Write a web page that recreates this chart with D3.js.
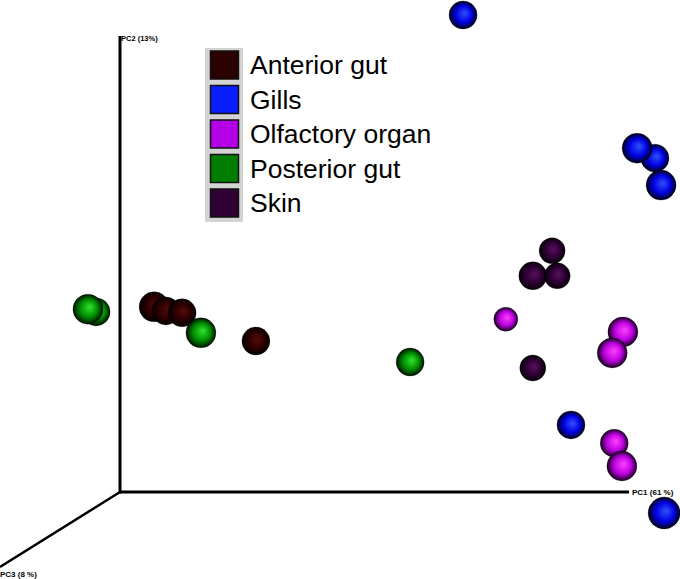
<!DOCTYPE html>
<html>
<head>
<meta charset="utf-8">
<script src="https://cdn.jsdelivr.net/npm/d3@7/dist/d3.min.js"></script>
<style>
  html, body { margin: 0; padding: 0; background: #ffffff; }
  svg { display: block; }
</style>
</head>
<body>
<script>
// ---- data (projected PCoA view: pc1 horizontal, pc2 vertical, pc3 depth) ----
const categories = ["Anterior gut", "Gills", "Olfactory organ", "Posterior gut", "Skin"];
const axisLabels = ["PC1 (61 %)", "PC2 (13%)", "PC3 (8 %)"];

const sampleGroup = [
  "Gills", "Gills", "Gills", "Gills", "Gills", "Gills",
  "Anterior gut", "Anterior gut", "Anterior gut", "Anterior gut",
  "Posterior gut", "Posterior gut", "Posterior gut", "Posterior gut",
  "Skin", "Skin", "Skin", "Skin",
  "Olfactory organ", "Olfactory organ", "Olfactory organ", "Olfactory organ", "Olfactory organ"
];
const pc1 = [67.4, 105.1, 101.6, 106.3, 88.6, 106.9,
             6.7, 9.0, 12.2, 26.7,
             -4.7, -6.3, 15.9, 57.0,
             84.9, 81.1, 85.9, 81.1,
             75.8, 98.8, 96.7, 97.1, 98.6];
const pc2 = [104.6, 73.2, 75.4, 67.3, 14.7, -4.6,
             40.6, 39.7, 39.3, 33.1,
             39.5, 40.1, 34.9, 28.5,
             52.9, 47.4, 47.4, 27.2,
             37.9, 35.1, 30.5, 10.7, 5.7];
const pc3 = [0.0, 0.0, 0.33, 0.33, 0.0, 0.67,
             0.33, 0.0, 0.0, 0.0,
             0.0, 0.33, 0.33, 0.0,
             -0.33, 0.0, -0.33, -0.33,
             -0.67, 0.33, 0.33, 0.0, 0.33];

// ---- styling ----
const W = 680, H = 579;
const palette = {
  "Anterior gut":    { legend: "#2a0202", hi: "#560a0a", mid: "#2a0000", edge: "#050000" },
  "Gills":           { legend: "#0a1fff", hi: "#3050ff", mid: "#0000e0", edge: "#000010" },
  "Olfactory organ": { legend: "#b400e6", hi: "#ff40ff", mid: "#bb00e0", edge: "#14001a" },
  "Posterior gut":   { legend: "#007d00", hi: "#30e430", mid: "#008a00", edge: "#000f00" },
  "Skin":            { legend: "#2e0033", hi: "#581060", mid: "#2c0032", edge: "#050005" }
};

const svg = d3.select("body").append("svg")
  .attr("width", W).attr("height", H);

const defs = svg.append("defs");
categories.forEach((c, i) => {
  const p = palette[c];
  const g = defs.append("radialGradient")
    .attr("id", "sph" + i)
    .attr("cx", "50%").attr("cy", "50%").attr("r", "50%")
    .attr("fx", "57%").attr("fy", "43%");
  g.append("stop").attr("offset", "0%").attr("stop-color", p.hi);
  g.append("stop").attr("offset", "60%").attr("stop-color", p.mid);
  g.append("stop").attr("offset", "100%").attr("stop-color", p.edge);
});

// scales
const x = d3.scaleLinear().domain([0, 100]).range([120, 629]);
const y = d3.scaleLinear().domain([0, 100]).range([492, 36]);
const r = d3.scaleLinear().domain([-1, 1]).range([11, 17]);

// axes (3D frame)
const origin = [x(0), y(0)];
svg.append("line")
  .attr("x1", origin[0]).attr("y1", origin[1])
  .attr("x2", x(100)).attr("y2", origin[1])
  .attr("stroke", "#000").attr("stroke-width", 3);
svg.append("line")
  .attr("x1", origin[0]).attr("y1", origin[1] + 1.5)
  .attr("x2", origin[0]).attr("y2", y(100))
  .attr("stroke", "#000").attr("stroke-width", 3);
svg.append("line")
  .attr("x1", origin[0]).attr("y1", origin[1])
  .attr("x2", 0).attr("y2", 567)
  .attr("stroke", "#000").attr("stroke-width", 2.5);

svg.append("text").text(axisLabels[0])
  .attr("x", x(100) + 3).attr("y", origin[1] + 3)
  .attr("font-family", "Liberation Sans, Arial, sans-serif")
  .attr("font-weight", "bold").attr("font-size", 8);
svg.append("text").text(axisLabels[1])
  .attr("x", origin[0] + 1).attr("y", y(100) + 5)
  .attr("font-family", "Liberation Sans, Arial, sans-serif")
  .attr("font-weight", "bold").attr("font-size", 7.5);
svg.append("text").text(axisLabels[2])
  .attr("x", 0).attr("y", 577)
  .attr("font-family", "Liberation Sans, Arial, sans-serif")
  .attr("font-weight", "bold").attr("font-size", 8);

// spheres
const points = sampleGroup.map((g, i) => ({ g, pc1: pc1[i], pc2: pc2[i], pc3: pc3[i] }));
svg.append("g").selectAll("circle")
  .data(points)
  .join("circle")
  .attr("cx", d => x(d.pc1))
  .attr("cy", d => y(d.pc2))
  .attr("r", d => r(d.pc3))
  .attr("fill", d => "url(#sph" + categories.indexOf(d.g) + ")")
  .attr("stroke", "#000")
  .attr("stroke-opacity", 0.35)
  .attr("stroke-width", 0.8);

// legend
const leg = svg.append("g");
leg.append("rect")
  .attr("x", 205).attr("y", 48).attr("width", 38).attr("height", 174)
  .attr("fill", "#d3d3d3");
const step = 34.5;
categories.forEach((c, i) => {
  leg.append("rect")
    .attr("x", 210.5).attr("y", 51 + i * step)
    .attr("width", 28).attr("height", 28)
    .attr("fill", palette[c].legend)
    .attr("stroke", "#111").attr("stroke-width", 1.5);
  leg.append("text").text(c)
    .attr("x", 250).attr("y", 74 + i * step)
    .attr("font-family", "Liberation Sans, Arial, sans-serif")
    .attr("font-size", 26.5)
    .attr("fill", "#000");
});
</script>
</body>
</html>
